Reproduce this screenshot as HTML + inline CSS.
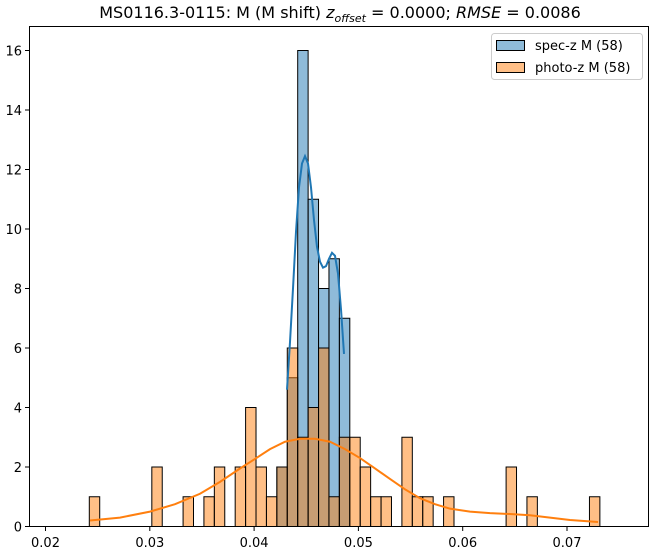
<!DOCTYPE html>
<html><head><meta charset="utf-8"><style>
body{margin:0;background:#fff}
svg{display:block;font-family:"DejaVu Sans","Liberation Sans",sans-serif}
</style></head><body>
<svg width="651" height="552" xmlns="http://www.w3.org/2000/svg">
<g id="bars" stroke="#000" stroke-width="1"></g>
<polyline id="kb" fill="none" stroke="#1f77b4" stroke-width="2"/>
<polyline id="ko" fill="none" stroke="#ff7f0e" stroke-width="2"/>
<rect x="29.5" y="26.5" width="619" height="500" fill="none" stroke="#000" stroke-width="1"/>
<g id="ticks" stroke="#000" stroke-width="1"></g>
<g id="labels" font-size="13" fill="#000"></g>
<text x="340" y="18" font-size="16" text-anchor="middle">MS0116.3-0115: M (M shift) <tspan font-style="italic">z</tspan><tspan font-style="italic" font-size="11" dy="4">offset</tspan><tspan dy="-4"> = 0.0000; </tspan><tspan font-style="italic">RMSE</tspan> = 0.0086</text>
<rect x="491.5" y="33.5" width="151" height="46" rx="3" fill="#fff" stroke="#ccc"/>
<rect x="496.5" y="40.5" width="28" height="10" fill="#8fbbd9" stroke="#000"/>
<rect x="496.5" y="62.5" width="28" height="10" fill="#ffbf87" stroke="#000"/>
<text x="535" y="50" font-size="13">spec-z M (58)</text>
<text x="535" y="72" font-size="13">photo-z M (58)</text>
</svg>
<script>
const ns="http://www.w3.org/2000/svg";
const y0=526.5,s=29.75,b=89.3,w=10.42;
const bars=document.getElementById('bars');
function bar(k,h,fill){const r=document.createElementNS(ns,'rect');r.setAttribute('x',b+k*w);r.setAttribute('y',y0-h*s);r.setAttribute('width',w);r.setAttribute('height',h*s);r.setAttribute('fill',fill);r.setAttribute('fill-opacity','0.5');bars.appendChild(r);}
const blue={18:2,19:5,20:16,21:11,22:8,23:9,24:7};
const orange={0:1,6:2,9:1,11:1,12:2,14:2,15:4,16:2,17:1,18:2,19:6,20:3,21:4,22:6,23:1,24:3,25:3,26:2,27:1,28:1,30:3,31:1,32:1,34:1,40:2,42:1,48:1};
for(const k in blue)bar(+k,blue[k],'#1f77b4');
for(const k in orange)bar(+k,orange[k],'#ff7f0e');
const kb=[[287,4.6],[290,6.2],[293,8],[296,9.9],[299,11.4],[302,12.2],[305,12.45],[308,12.2],[311,11.4],[314,10.3],[317,9.4],[320,8.9],[323,8.7],[326,8.75],[329,9.0],[332,9.2],[335,9.1],[338,8.5],[341,7.3],[344,5.8]];
const ko=[[90,0.2],[120,0.3],[150,0.5],[175,0.75],[200,1.1],[220,1.5],[240,1.95],[254,2.25],[270,2.6],[285,2.85],[300,2.95],[315,2.95],[330,2.85],[345,2.6],[360,2.3],[375,1.95],[390,1.6],[405,1.25],[420,0.95],[435,0.75],[450,0.6],[470,0.5],[490,0.45],[510,0.42],[530,0.38],[550,0.3],[570,0.22],[598,0.15]];
document.getElementById('kb').setAttribute('points',kb.map(p=>p[0]+','+(y0-p[1]*s)).join(' '));
document.getElementById('ko').setAttribute('points',ko.map(p=>p[0]+','+(y0-p[1]*s)).join(' '));
const t=document.getElementById('ticks'),l=document.getElementById('labels');
function line(x1,y1,x2,y2){const e=document.createElementNS(ns,'line');e.setAttribute('x1',x1);e.setAttribute('y1',y1);e.setAttribute('x2',x2);e.setAttribute('y2',y2);t.appendChild(e);}
function txt(x,y,str,a){const e=document.createElementNS(ns,'text');e.setAttribute('x',x);e.setAttribute('y',y);e.setAttribute('text-anchor',a);e.textContent=str;l.appendChild(e);}
for(let i=0;i<=16;i+=2){const y=y0-i*s;line(25,y,29.5,y);txt(22,y+5,String(i),'end');}
for(let i=0;i<6;i++){const x=45.5+i*104.3;line(x,526.5,x,531);txt(x,547,'0.0'+(i+2),'middle');}
</script>
</body></html>
